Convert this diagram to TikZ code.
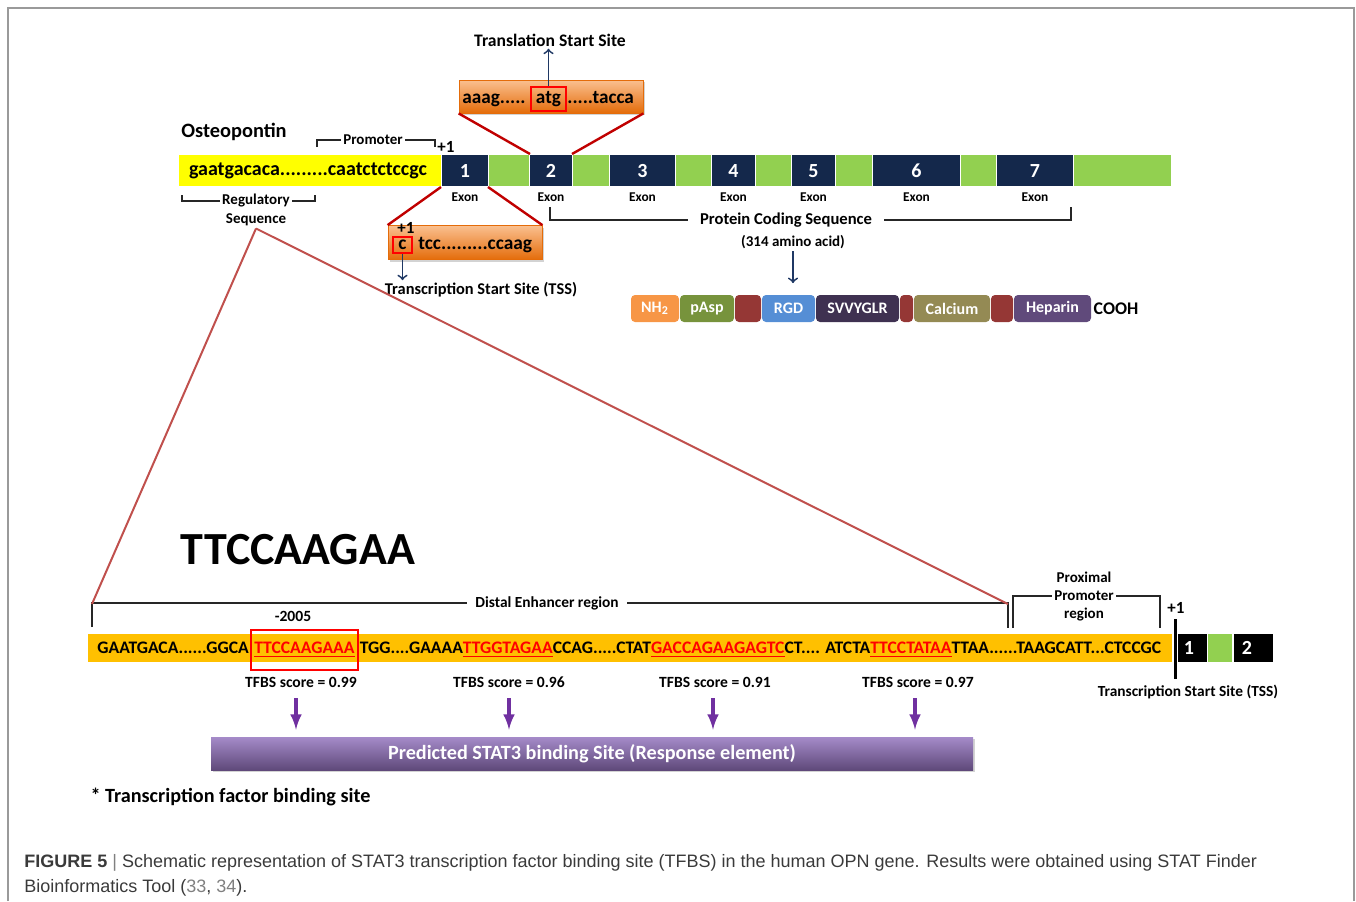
\documentclass[tikz,border=0pt]{standalone}
\usepackage{fontspec}
\setmainfont{Carlito}
\newfontfamily\capfont{Liberation Sans}
\usetikzlibrary{positioning,shadows}

\definecolor{exonnavy}{HTML}{14284B}
\definecolor{introngreen}{HTML}{92D050}
\definecolor{promyellow}{HTML}{FFFF00}
\definecolor{seqorange}{HTML}{FFC000}
\definecolor{zoomred}{HTML}{C00000}
\definecolor{linkred}{HTML}{C0504D}
\definecolor{arrownavy}{HTML}{1F3864}
\definecolor{statpurple}{HTML}{7030A0}
\definecolor{boxorangetop}{HTML}{FAC090}
\definecolor{boxorange}{HTML}{F79646}
\definecolor{boxorangebot}{HTML}{E46C0A}
\definecolor{barpurpletop}{HTML}{A58BC9}
\definecolor{barpurple}{HTML}{8064A2}
\definecolor{barpurplebot}{HTML}{5F497A}
\definecolor{domNH}{HTML}{F79646}
\definecolor{domAsp}{HTML}{77933C}
\definecolor{domLink}{HTML}{953735}
\definecolor{domRGD}{HTML}{558ED5}
\definecolor{domSV}{HTML}{3F3151}
\definecolor{domCa}{HTML}{948A54}
\definecolor{domHep}{HTML}{604A7B}
\definecolor{capgrey}{HTML}{3A3A3A}
\definecolor{framegrey}{HTML}{9A9A9A}

\newcommand{\fs}[1]{\fontsize{#1}{#1}\selectfont\bfseries}
\newcommand{\tfbs}[1]{\textcolor{red}{\underline{#1}}}

\tikzset{
  lbl/.style={font=\fs{#1},inner sep=1pt},
  lbl/.default=8,
  hit/.style={draw=red,line width=1pt,inner sep=0pt},
  obox/.style={top color=boxorangetop,middle color=boxorange,bottom color=boxorangebot,
    draw=boxorangebot,drop shadow={opacity=0.35,shadow xshift=1pt,shadow yshift=-1pt}},
  pbar/.style={top color=barpurpletop,middle color=barpurple,bottom color=barpurplebot,
    minimum width=381pt,minimum height=16.5pt,text=white,font=\fs{10.1},
    drop shadow={opacity=0.35,shadow xshift=1pt,shadow yshift=-1pt}},
  brk/.style={black!85,line width=0.6pt},
  zoomln/.style={zoomred,line width=1.2pt},
  linkln/.style={linkred,line width=1pt},
  navyarr/.style={->,arrownavy,line width=0.9pt},
  purparr/.style={-latex,statpurple,line width=1.6pt,shorten >=3.5pt,shorten <=4pt},
  exnum/.style={text=white,font=\fs{10}},
  exlab/.style={font=\fs{6.7},inner sep=1pt},
  dlab/.style={text=white,font=\fs{8},inner sep=0pt},
  captxt/.style={font=\capfont\fontsize{9}{10}\selectfont,text=capgrey,anchor=base west,inner sep=0pt}
}

\begin{document}
\begin{tikzpicture}[x=0.5pt,y=-0.5pt]
\useasboundingbox (0,0) rectangle (1356,901);
\draw[framegrey,line width=1pt] (8,901) -- (8,8) -- (1354,8) -- (1354,901);

% gene
\node[lbl=10.2] (opn) at (234,132) {Osteopontin};
\fill[promyellow] (179,155) rectangle (441,186);
\node[lbl=10] (regseq) at (308,171) {gaatgacaca.........caatctctccgc};
\foreach \a/\b in {489/529,573/609,676/711,756/791,836/872,961/996,1074/1171}
  \fill[introngreen] (\a,155) rectangle (\b,186);
\foreach \a/\b/\n in {442/488/1,530/572/2,610/675/3,712/755/4,792/835/5,873/960/6,997/1073/7} {
  \fill[exonnavy] (\a,155) rectangle (\b,186);
  \node[exnum] (ex\n) at ({(\a+\b)/2},171) {\n};
  \node[exlab] (exl\n) at ({(\a+\b)/2},197) {Exon};
}
\coordinate (e1bl) at (441,187);
\coordinate (e1br) at (488,187);
\coordinate (e2tl) at (530,154);
\coordinate (e2tr) at (572,154);

% promoter and regulatory brackets
\node[lbl=7.5] (prom) at (373,140) {Promoter};
\coordinate (pl) at (317,147);
\coordinate (pr) at (435,147);
\draw[brk] (pl) |- (prom.west);
\draw[brk] (prom.east) -| (pr);
\node[lbl=8.5] (plus1) at (446,147) {+1};
\node[lbl=7.5] (reg) at (256,201) {Regulatory};
\node[lbl=7.5] (regb) at (256,220) {Sequence};
\coordinate (rl) at (182,195);
\coordinate (rr) at (315,195);
\draw[brk] (rl) |- (reg.west);
\draw[brk] (reg.east) -| (rr);

% translation start site
\node[obox,minimum width=92pt,minimum height=16.5pt] (tsbox) at (551,96.5) {};
\node[hit,lbl=9.6,minimum width=17.5pt,minimum height=12pt,inner sep=0pt] (atg) at (548.5,99) {atg};
\node[lbl=9.6,anchor=base east] (tspre) at ([xshift=-1pt]atg.base west) {aaag.....};
\node[lbl=9.6,anchor=base west] (tspost) at ([xshift=-1pt]atg.base east) {.....tacca};
\node[lbl=8.8] (tlss) at (550,40) {Translation Start Site};
\draw[navyarr] (atg.north) -- (atg.north |- tlss.south);
\draw[zoomln] (tsbox.south west) -- (e2tl);
\draw[zoomln] (tsbox.south east) -- (e2tr);

% transcription start site
\node[obox,minimum width=77pt,minimum height=17pt] (tscbox) at (465,242.5) {};
\draw[zoomln] (e1bl) -- (tscbox.north west);
\draw[zoomln] (e1br) -- (tscbox.north east);
\node[hit,lbl=9.7,minimum width=9.5pt,minimum height=8pt,inner sep=0pt] (cnuc) at (402.5,245) {c};
\node[lbl=9.7,anchor=base west] (ctail) at ([xshift=1.5pt]cnuc.base east) {tcc.........ccaag};
\node[lbl=8.5] (plus1b) at (406,228) {+1};
\node[lbl=8.2] (tss) at (481,290) {Transcription Start Site (TSS)};
\draw[navyarr] (cnuc.south) -- (cnuc.south |- tss.north);

% protein
\node[lbl=8.3,inner xsep=6pt] (pcs) at (786,220) {Protein Coding Sequence};
\coordinate (pcl) at (550,207);
\coordinate (pcr) at (1071,207);
\draw[brk] (pcl) |- (pcs.west);
\draw[brk] (pcs.east) -| (pcr);
\node[lbl=7.5] (aa) at (793,242) {(314 amino acid)};
\draw[navyarr] (aa.south) -- ++(0,32);
\foreach \a/\b/\c/\t [count=\i] in {631/679/domNH/NH\textsubscript{2},680/734/domAsp/pAsp,735/761/domLink/,762/815/domRGD/RGD,816/899/domSV/SVVYGLR,900/913/domLink/,914/990/domCa/Calcium,991/1013/domLink/,1014/1091/domHep/Heparin} {
  \fill[\c,rounded corners=2pt] (\a,295) rectangle (\b,322);
  \node[dlab] (dom\i) at ({(\a+\b)/2},308.5) {\t};
}
\node[lbl=8.9] (cooh) at (1116,309) {COOH};

% promoter sequence
\node[lbl=23] (motif) at (298,550) {TTCCAAGAA};
\node[lbl=7.7,inner xsep=4pt] (dist) at (547,603) {Distal Enhancer region};
\coordinate (dl) at (92,604);
\coordinate (dl0) at (92,627);
\coordinate (dr) at (1008,604);
\coordinate (dr0) at (1008,628);
\draw[brk] (dl0) |- (dist.west);
\draw[brk] (dist.east) -| (dr0);
\draw[linkln] (regb.south) -- (dl);
\draw[linkln] (regb.south) -- (dr);

\node[lbl=7.5] (prx1) at (1084,577) {Proximal};
\node[lbl=7.5] (prx2) at (1084,596) {Promoter};
\node[lbl=7.5] (prx3) at (1084,614) {region};
\coordinate (ppl) at (1013,628);
\coordinate (ppr) at (1160,628);
\draw[brk] (ppl) |- (prx2.west);
\draw[brk] (prx2.east) -| (ppr);

\fill[seqorange] (88,634) rectangle (1172,662);
\node[lbl=8.8,anchor=base west,inner sep=0pt] (sq1) at (97,653.5) {GAATGACA......GGCA};
\node[hit,lbl=8.8,anchor=base west,minimum height=20pt,inner xsep=1.5pt] (sq2) at ([xshift=0.5pt]sq1.base east) {\tfbs{TTCCAAGAAA}};
\node[lbl=8.8,anchor=base west,inner sep=0pt] (sq3) at ([xshift=0.5pt]sq2.base east) {TGG....GAAAA\tfbs{TTGGTAGAA}CCAG.....CTAT\tfbs{GACCAGAAGAGTC}CT.... ATCTA\tfbs{TTCCTATAA}TTAA......TAAGCATT...CTCCGC};
\node[lbl=7.8] (pos) at (293,616) {-2005};

\node[lbl=8.5] (plus1c) at (1176,608) {+1};
\fill[black] (1178,634) rectangle (1207,662);
\fill[introngreen] (1208,634) rectangle (1232,662);
\fill[black] (1234,634) rectangle (1273,662);
\node[exnum] (bx1) at (1189,648) {1};
\node[exnum] (bx2) at (1247,648) {2};
\coordinate (tsst) at (1175,619);
\coordinate (tssb) at (1175,679);
\draw[line width=1.5pt] (tsst) -- (tssb);
\node[lbl=7.7] (tss2) at (1188,692) {Transcription Start Site (TSS)};

% STAT3 sites
\node[pbar] (psb) at (592,753.5) {Predicted STAT3 binding Site (Response element)};
\foreach \x/\s/\ax [count=\i] in {301/0.99/296,509/0.96/509,715/0.91/713,918/0.97/915} {
  \node[lbl=7.8] (tf\i) at (\x,682) {TFBS score = \s};
  \coordinate (tfa\i) at (\ax,690);
  \draw[purparr] (tfa\i) -- (tfa\i |- psb.north);
}
\node[lbl=10.1] (note) at (230.5,797) {* Transcription factor binding site};

% caption
\node[captxt] (cap1) at (24,867)
  {\textbf{FIGURE 5} {\color{gray}|} Schematic representation of STAT3 transcription factor binding site (TFBS) in the human OPN gene. Results were obtained using STAT Finder};
\node[captxt] (cap2) at (24,892)
  {Bioinformatics Tool ({\color{gray}33}, {\color{gray}34}).};
\end{tikzpicture}
\end{document}
